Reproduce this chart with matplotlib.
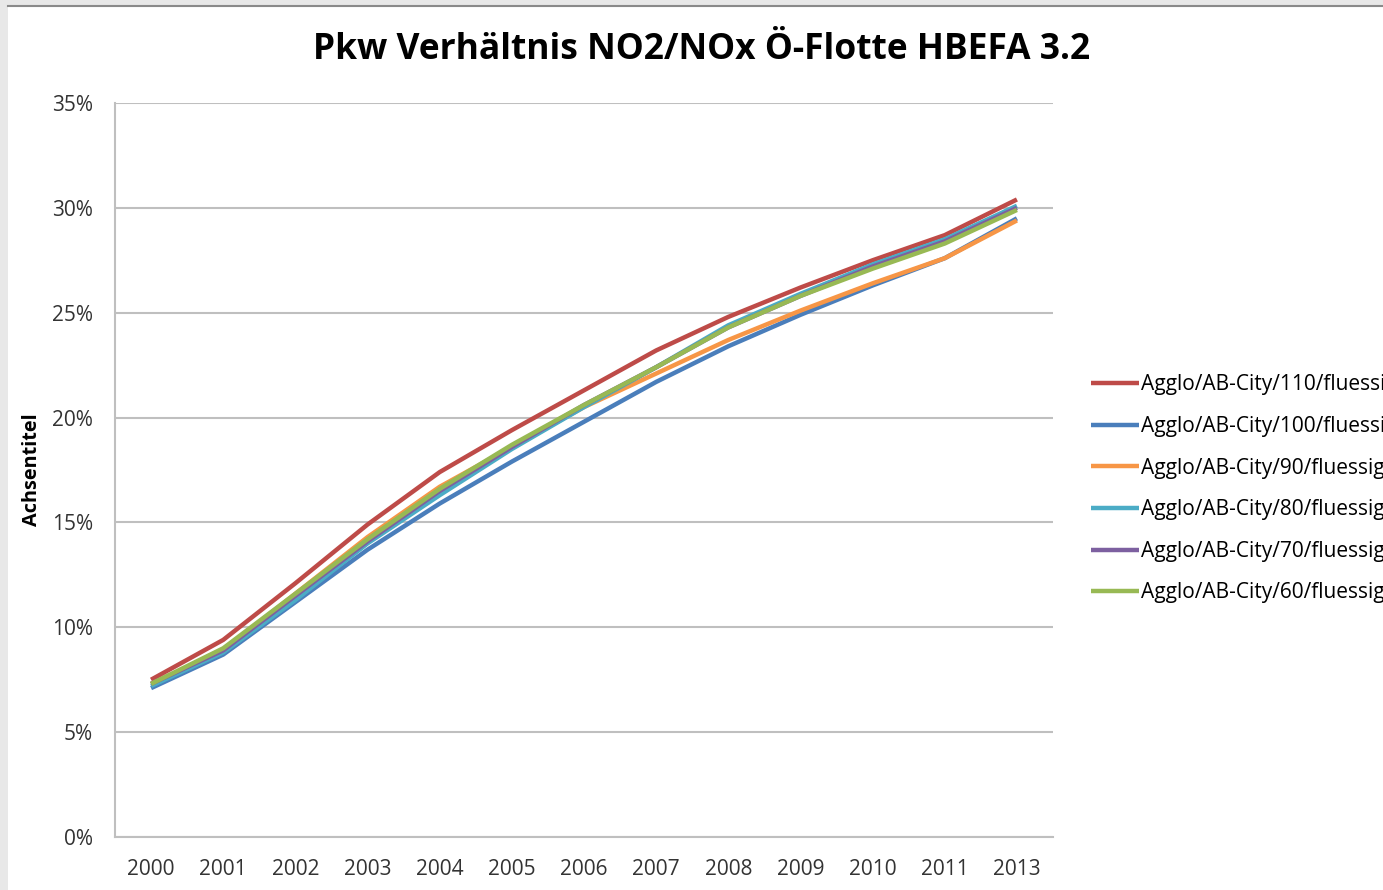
import matplotlib.pyplot as plt
from matplotlib.patches import Rectangle
from matplotlib.lines import Line2D
from matplotlib.ticker import FuncFormatter

years = ["2000", "2001", "2002", "2003", "2004", "2005", "2006",
         "2007", "2008", "2009", "2010", "2011", "2013"]

s110 = [7.5, 9.4, 12.1, 14.9, 17.4, 19.4, 21.3, 23.2, 24.8, 26.2, 27.5, 28.7, 30.4]
s100 = [7.1, 8.7, 11.2, 13.7, 15.9, 17.9, 19.8, 21.7, 23.4, 24.9, 26.3, 27.6, 29.5]
s90 = [7.3, 8.9, 11.6, 14.3, 16.7, 18.6, 20.5, 22.1, 23.7, 25.1, 26.4, 27.6, 29.4]
s80 = [7.2, 8.8, 11.3, 14.0, 16.3, 18.5, 20.5, 22.4, 24.4, 25.9, 27.3, 28.5, 30.1]
s70 = [7.3, 8.9, 11.5, 14.1, 16.5, 18.6, 20.6, 22.4, 24.3, 25.8, 27.2, 28.4, 30.0]
s60 = [7.3, 9.0, 11.6, 14.2, 16.6, 18.7, 20.6, 22.4, 24.3, 25.8, 27.1, 28.3, 29.9]

labels = ["Agglo/AB-City/110/fluessi", "Agglo/AB-City/100/fluessi",
          "Agglo/AB-City/90/fluessig", "Agglo/AB-City/80/fluessig",
          "Agglo/AB-City/70/fluessig", "Agglo/AB-City/60/fluessig"]
colors = ["#BE4B48", "#4A7EBB", "#F79646", "#4BACC6", "#7D60A0", "#98B954"]

plt.rcParams['font.family'] = ['Open Sans', 'DejaVu Sans']

fig = plt.figure(figsize=(13.83, 8.9), dpi=100)
fig.patch.set_facecolor("#E8E8E8")
# white chart area inside the grey screenshot frame
fig.patches.append(Rectangle((8 / 1383, 0), 1, 1 - 7 / 890, transform=fig.transFigure,
                             facecolor="white", edgecolor="none", zorder=-5))
fig.lines.append(Line2D([8 / 1383, 1], [1 - 6 / 890, 1 - 6 / 890], transform=fig.transFigure,
                        color="#8A8A8A", lw=1.5))

ax = fig.add_axes([115 / 1383, 53 / 890, 938 / 1383, 734 / 890])
ax.set_zorder(5)
ax.set_facecolor("white")

x = list(range(len(years)))
series = [s110, s100, s90, s80, s70, s60]
for vals, lab, col in zip(series, labels, colors):
    ax.plot(x, vals, color=col, lw=3.2, label=lab, solid_capstyle="butt")

ax.set_xlim(-0.5, len(years) - 0.5)
ax.set_ylim(0, 35)
ax.set_yticks(range(0, 36, 5))
ax.yaxis.set_major_formatter(FuncFormatter(lambda v, p: f"{int(v)}%"))
ax.set_xticks(x)
ax.set_xticklabels(years)
ax.grid(axis="y", color="#BFBFBF", lw=1.5)
ax.set_axisbelow(True)
for side in ["top", "right"]:
    ax.spines[side].set_visible(False)
for side in ["left", "bottom"]:
    ax.spines[side].set_color("#BFBFBF")
    ax.spines[side].set_linewidth(1.5)
ax.tick_params(axis="both", length=0, labelsize=15, colors="#333333")
ax.tick_params(axis="x", pad=16)
ax.tick_params(axis="y", pad=16)

ax.set_ylabel("Achsentitel", fontsize=14.3, fontweight="bold")
ax.yaxis.set_label_coords(-0.078, 0.5)
fig.text(702 / 1383, 1 - 50 / 890, "Pkw Verhältnis NO2/NOx Ö-Flotte HBEFA 3.2",
         ha="center", va="center", fontsize=25.5, fontweight="bold")

fig.legend(loc="upper left", bbox_to_anchor=(1083 / 1383, 1 - 366 / 890), frameon=False,
           fontsize=15, handlelength=2.3, handletextpad=0.1, labelspacing=0.99,
           borderaxespad=0)

fig.savefig("out.png", dpi=100)
